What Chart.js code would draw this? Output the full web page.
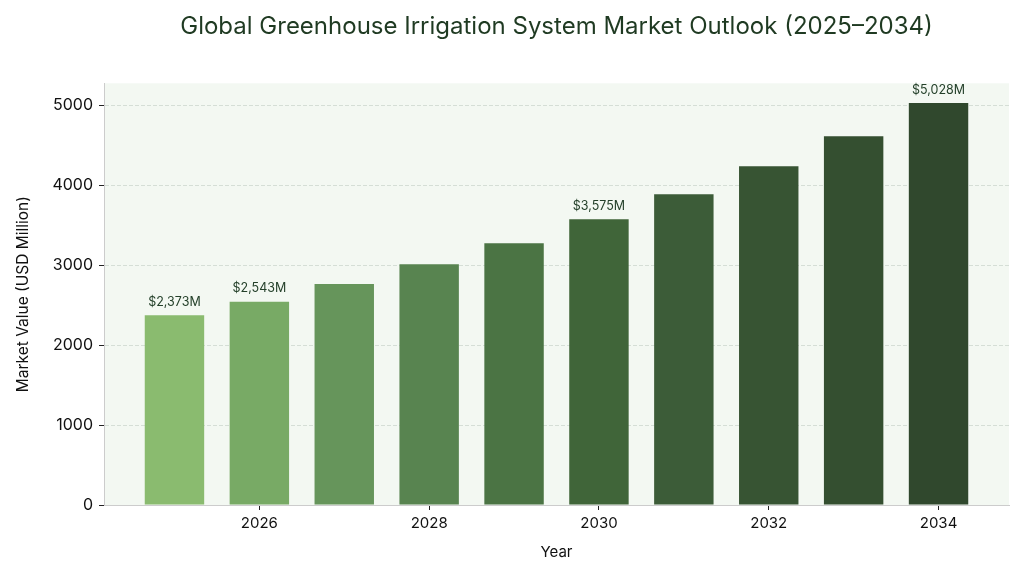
<!DOCTYPE html>
<html>
<head>
<meta charset="utf-8">
<title>Global Greenhouse Irrigation System Market Outlook</title>
<script src="https://cdn.jsdelivr.net/npm/chart.js@4"></script>
<style>
  html, body { margin: 0; padding: 0; background: #fff; }
  canvas { display: block; }
</style>
</head>
<body>
<canvas id="marketChart" width="1024" height="576"></canvas>
<script>
const years = [2025, 2026, 2027, 2028, 2029, 2030, 2031, 2032, 2033, 2034];
const marketValues = [2373, 2543, 2765, 3012, 3275, 3575, 3888, 4238, 4612, 5028];
const barColors = ["#8abb6f", "#78aa65", "#66955b", "#588450", "#4b7444", "#406539", "#3c5c38", "#375433", "#344f30", "#30482d"];
const xTicks = [2026, 2028, 2030, 2032, 2034];
const yTicks = [0, 1000, 2000, 3000, 4000, 5000];
const labelledYears = [2025, 2026, 2030, 2034];

const FONT = "Inter, 'Noto Sans', sans-serif";

// Plot background behind everything
const plotBackground = {
  id: "plotBackground",
  beforeDraw(chart) {
    const { ctx, chartArea: a } = chart;
    ctx.save();
    ctx.fillStyle = "#f3f8f2";
    ctx.fillRect(a.left, a.top, a.right - a.left, a.bottom - a.top);
    ctx.restore();
  },
};

// Value labels above the selected bars
const valueLabels = {
  id: "valueLabels",
  afterDatasetsDraw(chart) {
    const { ctx } = chart;
    const bars = chart.getDatasetMeta(0).data;
    ctx.save();
    ctx.font = "12.5px " + FONT;
    ctx.fillStyle = "#24402a";
    ctx.textAlign = "center";
    ctx.textBaseline = "bottom";
    years.forEach((year, i) => {
      if (!labelledYears.includes(year)) return;
      ctx.fillText("$" + marketValues[i].toLocaleString("en-US") + "M", bars[i].x, bars[i].y - 7);
    });
    ctx.restore();
  },
};

new Chart(document.getElementById("marketChart"), {
  type: "bar",
  data: {
    datasets: [
      {
        data: years.map((year, i) => ({ x: year, y: marketValues[i] })),
        backgroundColor: barColors,
        barPercentage: 0.7,
        categoryPercentage: 1,
      },
    ],
  },
  options: {
    responsive: false,
    animation: false,
    layout: { padding: { left: 0, right: 15, top: 0, bottom: 0 } },
    plugins: {
      legend: { display: false },
      tooltip: { enabled: false },
      title: {
        display: true,
        fullSize: false,
        text: "Global Greenhouse Irrigation System Market Outlook (2025–2034)",
        color: "#1f3a22",
        font: { family: FONT, size: 24, weight: "400" },
        padding: { top: 12, bottom: 42.5 },
      },
    },
    scales: {
      x: {
        type: "linear",
        offset: false,
        min: 2024.17,
        max: 2034.83,
        afterBuildTicks(axis) {
          axis.ticks = xTicks.map((value) => ({ value }));
        },
        afterFit(axis) {
          axis.height = 71;
        },
        grid: { offset: false, drawOnChartArea: false, tickLength: 5, tickColor: "#222" },
        border: { color: "#cccccc" },
        ticks: {
          color: "#111",
          font: { family: FONT, size: 15 },
          padding: 4,
          maxRotation: 0,
          callback: (v) => String(v),
        },
        title: {
          display: true,
          text: "Year",
          color: "#111",
          font: { family: FONT, size: 15 },
          padding: { top: 10, bottom: 15 },
        },
      },
      y: {
        min: 0,
        max: 5275,
        afterBuildTicks(axis) {
          axis.ticks = yTicks.map((value) => ({ value }));
        },
        afterFit(axis) {
          axis.width = 104;
        },
        grid: { color: "#d5ded6", tickColor: "#222", tickLength: 5 },
        border: { color: "#cccccc", dash: [4, 2] },
        ticks: {
          color: "#111",
          font: { family: FONT, size: 16 },
          padding: 6,
          callback: (v) => String(v),
        },
        title: {
          display: true,
          text: "Market Value (USD Million)",
          color: "#111",
          font: { family: FONT, size: 15.5 },
          padding: { top: 14, bottom: 8 },
        },
      },
    },
  },
  plugins: [plotBackground, valueLabels],
});
</script>
</body>
</html>
